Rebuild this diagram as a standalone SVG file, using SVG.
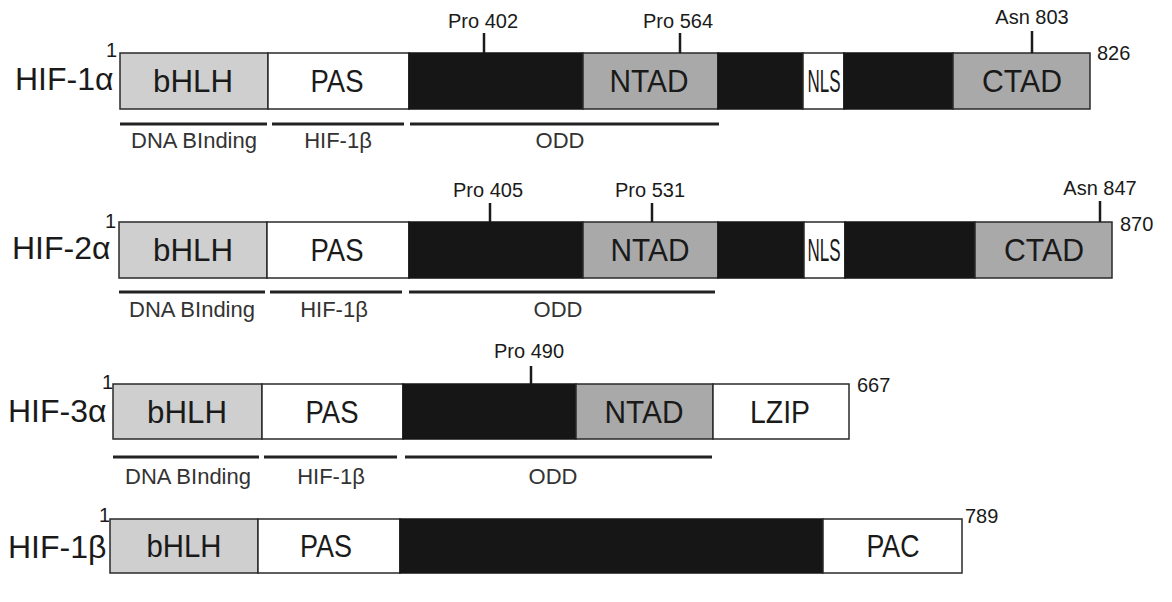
<svg xmlns="http://www.w3.org/2000/svg" width="1172" height="602" viewBox="0 0 1172 602">
<style>
  .bg{fill:#ffffff}
  .b{fill:#cfcfcf;stroke:#2a2a2a;stroke-width:1.5}
  .w{fill:#ffffff;stroke:#2a2a2a;stroke-width:1.5}
  .d{fill:#161616;stroke:#161616;stroke-width:1.5}
  .g{fill:#a9a9a9;stroke:#2a2a2a;stroke-width:1.5}
  .dom{font-family:"Liberation Sans",Arial,sans-serif;font-size:32px;fill:#1a1a1a;text-anchor:middle}
  .name{font-family:"Liberation Sans",Arial,sans-serif;font-size:32px;fill:#1a1a1a}
  .num{font-family:"Liberation Sans",Arial,sans-serif;font-size:20px;fill:#1a1a1a}
  .site{font-family:"Liberation Sans",Arial,sans-serif;font-size:20px;fill:#1a1a1a;text-anchor:middle}
  .reg{font-family:"Liberation Sans",Arial,sans-serif;font-size:22px;fill:#333333;text-anchor:middle}
  .ul{stroke:#222222;stroke-width:3}
  .tick{stroke:#1a1a1a;stroke-width:2.5}
</style>
<rect class="bg" x="0" y="0" width="1172" height="602"/>

<g id="hif1a">
  <text class="name" x="15" y="90">HIF-1α</text>
  <text class="num" x="106" y="57">1</text>
  <rect class="b" x="120" y="53" width="148" height="56"/>
  <rect class="w" x="268" y="53" width="141" height="56"/>
  <rect class="d" x="409" y="53" width="174" height="56"/>
  <rect class="g" x="583" y="53" width="135" height="56"/>
  <rect class="d" x="718" y="53" width="85" height="56"/>
  <rect class="w" x="803" y="53" width="41" height="56"/>
  <rect class="d" x="844" y="53" width="109" height="56"/>
  <rect class="g" x="953" y="53" width="137" height="56"/>
  <text class="dom" x="193" y="92" textLength="80" lengthAdjust="spacingAndGlyphs">bHLH</text>
  <text class="dom" x="337" y="92" textLength="53" lengthAdjust="spacingAndGlyphs">PAS</text>
  <text class="dom" x="649" y="92" textLength="79" lengthAdjust="spacingAndGlyphs">NTAD</text>
  <text class="dom" x="824" y="92" textLength="33" lengthAdjust="spacingAndGlyphs">NLS</text>
  <text class="dom" x="1022" y="92" textLength="80" lengthAdjust="spacingAndGlyphs">CTAD</text>
  <text class="num" x="1097" y="60">826</text>
  <text class="site" x="483" y="28">Pro 402</text>
  <text class="site" x="678" y="28">Pro 564</text>
  <text class="site" x="1032" y="24">Asn 803</text>
  <line class="tick" x1="484" y1="33" x2="484" y2="53"/>
  <line class="tick" x1="680" y1="33" x2="680" y2="53"/>
  <line class="tick" x1="1032" y1="31" x2="1032" y2="53"/>
  <line class="ul" x1="120" y1="124" x2="267" y2="124"/>
  <line class="ul" x1="272" y1="124" x2="404" y2="124"/>
  <line class="ul" x1="410" y1="124" x2="719" y2="124"/>
  <text class="reg" x="194" y="148">DNA BInding</text>
  <text class="reg" x="338" y="148">HIF-1β</text>
  <text class="reg" x="560" y="148">ODD</text>
</g>

<g id="hif2a">
  <text class="name" x="12" y="259">HIF-2α</text>
  <text class="num" x="105" y="228">1</text>
  <rect class="b" x="119" y="222" width="148" height="56"/>
  <rect class="w" x="267" y="222" width="142" height="56"/>
  <rect class="d" x="409" y="222" width="174" height="56"/>
  <rect class="g" x="583" y="222" width="135" height="56"/>
  <rect class="d" x="718" y="222" width="86" height="56"/>
  <rect class="w" x="804" y="222" width="41" height="56"/>
  <rect class="d" x="845" y="222" width="130" height="56"/>
  <rect class="g" x="975" y="222" width="137" height="56"/>
  <text class="dom" x="193" y="261" textLength="80" lengthAdjust="spacingAndGlyphs">bHLH</text>
  <text class="dom" x="337" y="261" textLength="53" lengthAdjust="spacingAndGlyphs">PAS</text>
  <text class="dom" x="650" y="261" textLength="79" lengthAdjust="spacingAndGlyphs">NTAD</text>
  <text class="dom" x="824" y="261" textLength="33" lengthAdjust="spacingAndGlyphs">NLS</text>
  <text class="dom" x="1044" y="261" textLength="80" lengthAdjust="spacingAndGlyphs">CTAD</text>
  <text class="num" x="1120" y="231">870</text>
  <text class="site" x="488" y="197">Pro 405</text>
  <text class="site" x="650" y="197">Pro 531</text>
  <text class="site" x="1100" y="195">Asn 847</text>
  <line class="tick" x1="490" y1="203" x2="490" y2="222"/>
  <line class="tick" x1="652" y1="203" x2="652" y2="222"/>
  <line class="tick" x1="1100" y1="201" x2="1100" y2="222"/>
  <line class="ul" x1="119" y1="292" x2="265" y2="292"/>
  <line class="ul" x1="270" y1="292" x2="402" y2="292"/>
  <line class="ul" x1="409" y1="292" x2="715" y2="292"/>
  <text class="reg" x="192" y="317">DNA BInding</text>
  <text class="reg" x="334" y="317">HIF-1β</text>
  <text class="reg" x="558" y="317">ODD</text>
</g>

<g id="hif3a">
  <text class="name" x="8" y="422">HIF-3α</text>
  <text class="num" x="102" y="389">1</text>
  <rect class="b" x="113" y="384" width="149" height="55"/>
  <rect class="w" x="262" y="384" width="141" height="55"/>
  <rect class="d" x="403" y="384" width="173" height="55"/>
  <rect class="g" x="576" y="384" width="137" height="55"/>
  <rect class="w" x="713" y="384" width="136" height="55"/>
  <text class="dom" x="187" y="423" textLength="80" lengthAdjust="spacingAndGlyphs">bHLH</text>
  <text class="dom" x="332" y="423" textLength="53" lengthAdjust="spacingAndGlyphs">PAS</text>
  <text class="dom" x="644" y="423" textLength="79" lengthAdjust="spacingAndGlyphs">NTAD</text>
  <text class="dom" x="780" y="423" textLength="60" lengthAdjust="spacingAndGlyphs">LZIP</text>
  <text class="num" x="857" y="392">667</text>
  <text class="site" x="529" y="358">Pro 490</text>
  <line class="tick" x1="531" y1="366" x2="531" y2="384"/>
  <line class="ul" x1="113" y1="457" x2="259" y2="457"/>
  <line class="ul" x1="264" y1="457" x2="397" y2="457"/>
  <line class="ul" x1="405" y1="457" x2="712" y2="457"/>
  <text class="reg" x="188" y="484">DNA BInding</text>
  <text class="reg" x="331" y="484">HIF-1β</text>
  <text class="reg" x="553" y="484">ODD</text>
</g>

<g id="hif1b">
  <text class="name" x="8" y="558">HIF-1β</text>
  <text class="num" x="99" y="522">1</text>
  <rect class="b" x="110" y="519" width="148" height="54"/>
  <rect class="w" x="258" y="519" width="142" height="54"/>
  <rect class="d" x="400" y="519" width="423" height="54"/>
  <rect class="w" x="823" y="519" width="139" height="54"/>
  <text class="dom" x="184" y="557" textLength="75" lengthAdjust="spacingAndGlyphs">bHLH</text>
  <text class="dom" x="326" y="557" textLength="52" lengthAdjust="spacingAndGlyphs">PAS</text>
  <text class="dom" x="893" y="557" textLength="53" lengthAdjust="spacingAndGlyphs">PAC</text>
  <text class="num" x="965" y="523">789</text>
</g>
</svg>
